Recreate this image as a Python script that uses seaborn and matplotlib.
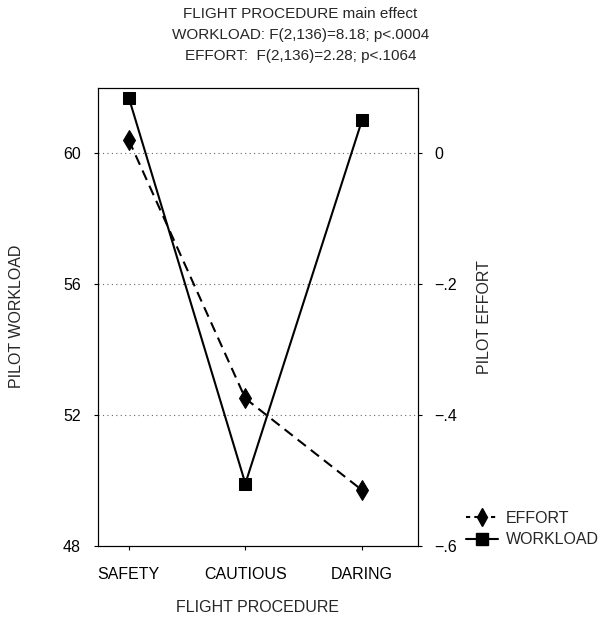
import matplotlib
matplotlib.use("Agg")
import matplotlib.pyplot as plt
import seaborn as sns
import pandas as pd
from matplotlib.lines import Line2D

procedures = ["SAFETY", "CAUTIOUS", "DARING"]
workload = [61.7, 49.9, 61.0]
effort = [0.02, -0.375, -0.515]
left_ticks = [48, 52, 56, 60]
right_ticks = [-0.6, -0.4, -0.2, 0.0]
right_labels = ["\u2212.6", "\u2212.4", "\u2212.2", "0"]
title_lines = ["FLIGHT PROCEDURE main effect",
               "WORKLOAD: F(2,136)=8.18; p<.0004",
               "EFFORT:  F(2,136)=2.28; p<.1064"]

sns.set_theme(style="white")
plt.rcParams['font.family'] = ['Liberation Sans', 'DejaVu Sans']

df = pd.DataFrame({"procedure": procedures, "workload": workload, "effort": effort})

fig = plt.figure(figsize=(6.11, 6.18), dpi=100)
ax = fig.add_axes([0.160, 0.117, 0.524, 0.741])
ax2 = ax.twinx()

sns.lineplot(data=df, x="procedure", y="workload", ax=ax, sort=False,
             color="black", linewidth=1.5, marker="s", markersize=9,
             markeredgecolor="black", markerfacecolor="black")
sns.lineplot(data=df, x="procedure", y="effort", ax=ax2, sort=False,
             color="black", linewidth=1.5, marker="d", markersize=10,
             markeredgecolor="black", markerfacecolor="black")
ax2.lines[0].set_dashes([5, 3])

ax.set_xlim(-0.266, 2.48)
ax.set_ylim(48, 62)
ax2.set_ylim(-0.6, 0.1)
ax.set_yticks(left_ticks)
ax.set_yticklabels([str(t) for t in left_ticks])
ax2.set_yticks(right_ticks)
ax2.set_yticklabels(right_labels)

for t in [52, 56, 60]:
    ax.axhline(t, color="#666666", linestyle=(0, (1, 3)), linewidth=0.8, zorder=0)

fs = 11.5
for a in (ax, ax2):
    for s in a.spines.values():
        s.set_color("black")
        s.set_linewidth(0.8)
    a.tick_params(axis="both", labelsize=fs, colors="black", length=3, width=0.8,
                  direction="out")
ax.tick_params(axis="x", pad=12)
ax.tick_params(axis="y", pad=9)
ax2.tick_params(axis="y", pad=9)
ax.tick_params(left=True, bottom=True)
ax2.tick_params(right=True)

ax.set_xlabel("FLIGHT PROCEDURE", fontsize=fs, labelpad=13)
ax.set_ylabel("PILOT WORKLOAD", fontsize=fs, labelpad=28)
ax2.set_ylabel("PILOT EFFORT", fontsize=fs, labelpad=14)

for i, line in enumerate(title_lines):
    fig.text(0.492, 0.977 - i * 0.034, line, ha="center", va="center", fontsize=11)

handles = [Line2D([], [], color="black", linewidth=1.5, linestyle=(0, (2, 2)),
                  marker="d", markersize=9),
           Line2D([], [], color="black", linewidth=1.5, marker="s", markersize=8)]
fig.legend(handles, ["EFFORT", "WORKLOAD"], loc="center left",
           bbox_to_anchor=(0.752, 0.144), frameon=False, fontsize=fs,
           handlelength=2.0, handletextpad=0.5, labelspacing=0.4, borderaxespad=0)

fig.savefig("out.png", dpi=100)
